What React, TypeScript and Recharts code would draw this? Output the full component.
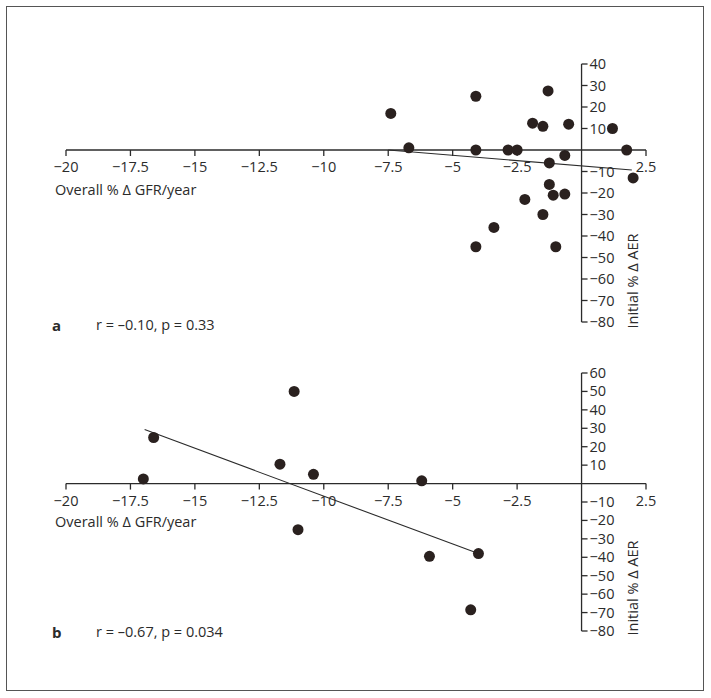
import React from "react"
import { ScatterChart, Scatter, XAxis, YAxis, ReferenceLine, ReferenceDot } from "recharts"

// panel a: overall % change GFR/year vs initial % change AER
const panelAX = [-7.4, -6.7, -4.1, -4.1, -2.85, -2.5, -1.9, -1.5, -1.3, -0.5, -0.65, -1.25, 1.2, 1.75, 2.0, -1.25, -1.1, -0.65, -2.2, -1.5, -3.4, -4.1, -1.0]
const panelAY = [17, 1, 25, 0, 0, 0, 12.5, 11, 27.5, 12, -2.5, -6, 10, 0, -13, -16, -21, -20.5, -23, -30, -36, -45, -45]
const trendA = [{ x: -7.5, y: 0 }, { x: 1.95, y: -9.3 }]

// panel b
const panelBX = [-17, -16.6, -11.15, -11.7, -10.4, -11.0, -6.2, -5.9, -4.0, -4.3]
const panelBY = [2.5, 25, 50, 10.5, 5, -25, 1.5, -39.5, -38, -68.5]
const trendB = [{ x: -16.95, y: 29.3 }, { x: -4.0, y: -38 }]

const xTicks = [-20, -17.5, -15, -12.5, -10, -7.5, -5, -2.5, 2.5]
const yTicksA = [40, 30, 20, 10, -10, -20, -30, -40, -50, -60, -70, -80]
const yTicksB = [60, 50, 40, 30, 20, 10, -10, -20, -30, -40, -50, -60, -70, -80]

const FONT = "'Open Sans', sans-serif"
const INK = "#2b2b2b"
const DOT = "#2a211f"
const FS = 14.5

const fmt = (v: number) => (v < 0 ? "\u2212" + Math.abs(v) : String(v))

const toPoints = (xs: number[], ys: number[]) => xs.map((x, i) => ({ x, y: ys[i] }))

const XTick = (label: string) => (p: any) => (
  <g>
    <line x1={p.cx} y1={p.cy} x2={p.cx} y2={p.cy + 6} stroke={INK} strokeWidth={1.3} />
    <text x={p.cx} y={p.cy + 22} textAnchor="middle" fontFamily={FONT} fontSize={FS} fill={INK}>
      {label}
    </text>
  </g>
)

const YTick = (label: string) => (p: any) => (
  <g>
    <line x1={p.cx} y1={p.cy} x2={p.cx + 6} y2={p.cy} stroke={INK} strokeWidth={1.3} />
    <text x={p.cx + 8} y={p.cy + 5} textAnchor="start" fontFamily={FONT} fontSize={FS} fill={INK}>
      {label}
    </text>
  </g>
)

const dotShape = (p: any) => <circle cx={p.cx} cy={p.cy} r={5.5} fill={DOT} />

interface PanelProps {
  points: { x: number; y: number }[]
  trend: { x: number; y: number }[]
  yDomain: [number, number]
  yTicks: number[]
  height: number
  margin: { top: number; right: number; bottom: number; left: number }
}

const Panel = ({ points, trend, yDomain, yTicks, height, margin }: PanelProps) => (
  <ScatterChart width={711} height={height} margin={margin}>
    <XAxis type="number" dataKey="x" domain={[-20, 2.5]} allowDataOverflow hide />
    <YAxis type="number" dataKey="y" domain={yDomain} allowDataOverflow hide />
    <ReferenceLine y={0} stroke={INK} strokeWidth={1.3} />
    <ReferenceLine x={0} stroke={INK} strokeWidth={1.3} />
    {xTicks.map((t) => (
      <ReferenceDot key={"x" + t} x={t} y={0} ifOverflow="visible" shape={XTick(fmt(t))} />
    ))}
    {yTicks.map((t) => (
      <ReferenceDot key={"y" + t} x={0} y={t} ifOverflow="visible" shape={YTick(fmt(t))} />
    ))}
    <ReferenceLine segment={trend} stroke={INK} strokeWidth={1.1} ifOverflow="visible" />
    <Scatter data={points} shape={dotShape} isAnimationActive={false} />
  </ScatterChart>
)

const textStyle: React.CSSProperties = {
  position: "absolute",
  fontFamily: FONT,
  fontSize: FS,
  color: INK,
  whiteSpace: "nowrap",
  lineHeight: "16px",
}

const yLabel = (top: number): React.CSSProperties => ({
  ...textStyle,
  left: 633,
  top,
  transform: "translate(-50%, -50%) rotate(-90deg)",
})

export default function App() {
  return (
    <div style={{ position: "absolute", left: 0, top: 0, width: 711, height: 698, background: "#fff" }}>
      <div
        style={{
          position: "absolute",
          left: 6,
          top: 6,
          width: 698,
          height: 685,
          border: "1.5px solid #555",
          boxSizing: "border-box",
        }}
      />
      <div style={{ position: "absolute", left: 0, top: 0 }}>
        <Panel
          points={toPoints(panelAX, panelAY)}
          trend={trendA}
          yDomain={[-80, 40]}
          yTicks={yTicksA}
          height={340}
          margin={{ top: 64, right: 65, bottom: 18, left: 66 }}
        />
      </div>
      <div style={{ position: "absolute", left: 0, top: 340 }}>
        <Panel
          points={toPoints(panelBX, panelBY)}
          trend={trendB}
          yDomain={[-80, 60]}
          yTicks={yTicksB}
          height={358}
          margin={{ top: 33, right: 65, bottom: 67, left: 66 }}
        />
      </div>

      <div style={{ ...textStyle, left: 55, top: 182 }}>Overall % Δ GFR/year</div>
      <div style={{ ...textStyle, left: 55, top: 514 }}>Overall % Δ GFR/year</div>

      <div style={yLabel(281)}>Initial % Δ AER</div>
      <div style={yLabel(588)}>Initial % Δ AER</div>

      <div style={{ ...textStyle, left: 52, top: 317, fontWeight: 700, fontSize: 15 }}>a</div>
      <div style={{ ...textStyle, left: 96, top: 317 }}>r = –0.10, p = 0.33</div>
      <div style={{ ...textStyle, left: 52, top: 624, fontWeight: 700, fontSize: 15 }}>b</div>
      <div style={{ ...textStyle, left: 96, top: 624 }}>r = –0.67, p = 0.034</div>
    </div>
  )
}
